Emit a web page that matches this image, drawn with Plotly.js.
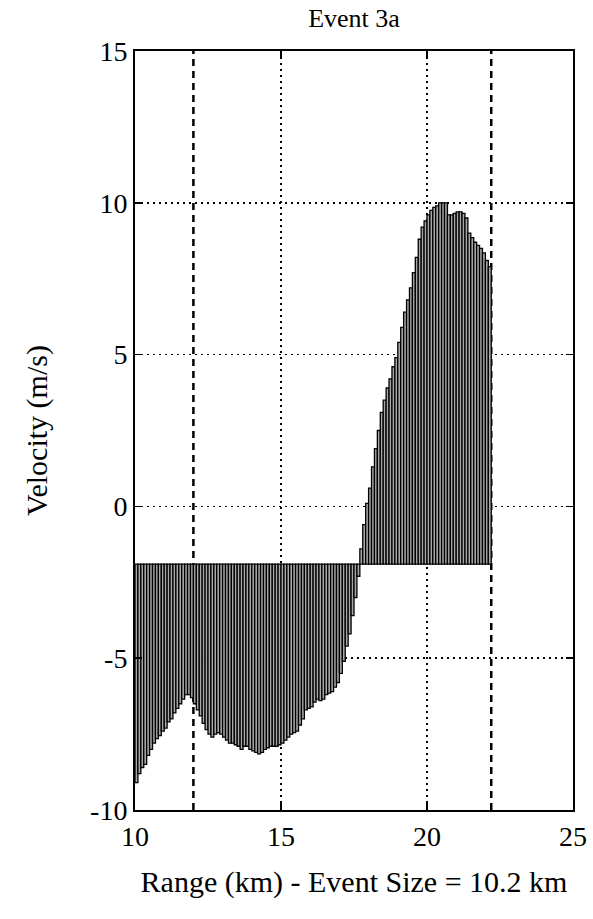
<!DOCTYPE html>
<html>
<head>
<meta charset="utf-8">
<script src="https://cdn.plot.ly/plotly-3.0.1.min.js"></script>
<style>
  html, body { margin: 0; padding: 0; background: #ffffff; }
  #chart { width: 593px; height: 919px; }
</style>
</head>
<body>
<div id="chart"></div>
<script>
// Range (km): left edge of each 0.1 km bar
const rangeKm = [
  10.0, 10.1, 10.2, 10.3, 10.4, 10.5, 10.6, 10.7, 10.8, 10.9,
  11.0, 11.1, 11.2, 11.3, 11.4, 11.5, 11.6, 11.7, 11.8, 11.9,
  12.0, 12.1, 12.2, 12.3, 12.4, 12.5, 12.6, 12.7, 12.8, 12.9,
  13.0, 13.1, 13.2, 13.3, 13.4, 13.5, 13.6, 13.7, 13.8, 13.9,
  14.0, 14.1, 14.2, 14.3, 14.4, 14.5, 14.6, 14.7, 14.8, 14.9,
  15.0, 15.1, 15.2, 15.3, 15.4, 15.5, 15.6, 15.7, 15.8, 15.9,
  16.0, 16.1, 16.2, 16.3, 16.4, 16.5, 16.6, 16.7, 16.8, 16.9,
  17.0, 17.1, 17.2, 17.3, 17.4, 17.5, 17.6, 17.7, 17.8, 17.9,
  18.0, 18.1, 18.2, 18.3, 18.4, 18.5, 18.6, 18.7, 18.8, 18.9,
  19.0, 19.1, 19.2, 19.3, 19.4, 19.5, 19.6, 19.7, 19.8, 19.9,
  20.0, 20.1, 20.2, 20.3, 20.4, 20.5, 20.6, 20.7, 20.8, 20.9,
  21.0, 21.1, 21.2, 21.3, 21.4, 21.5, 21.6, 21.7, 21.8, 21.9,
  22.0, 22.1
];

// Velocity (m/s) at each range bin
const velocity = [
  -9.1, -8.8, -8.6, -8.5, -8.2, -8.0, -7.8, -7.65, -7.55, -7.4,
  -7.3, -7.1, -7.0, -6.8, -6.65, -6.5, -6.35, -6.2, -6.2, -6.3,
  -6.5, -6.7, -6.9, -7.15, -7.35, -7.5, -7.6, -7.5, -7.45, -7.5,
  -7.6, -7.7, -7.8, -7.8, -7.85, -7.9, -8.0, -7.9, -7.9, -8.0,
  -8.05, -8.1, -8.15, -8.1, -8.0, -7.95, -7.9, -7.9, -7.9, -7.85,
  -7.8, -7.7, -7.6, -7.5, -7.45, -7.4, -7.2, -7.0, -6.7, -6.65,
  -6.6, -6.45, -6.35, -6.4, -6.35, -6.2, -6.15, -6.1, -5.95, -5.8,
  -5.5, -5.1, -4.6, -4.2, -3.6, -3.0, -2.3, -1.4, -0.6, 0.1,
  0.6, 1.3, 1.9, 2.5, 3.1, 3.5, 3.9, 4.2, 4.6, 4.9,
  5.4, 5.9, 6.4, 6.8, 7.2, 7.7, 8.2, 8.8, 9.2, 9.4,
  9.6, 9.75, 9.85, 9.9, 10.0, 10.0, 10.0, 9.6, 9.6, 9.65,
  9.7, 9.7, 9.65, 9.5, 9.0, 8.85, 8.7, 8.6, 8.5, 8.35,
  8.1, 7.9
];

const baseline = -1.9;                 // bar base level (m/s)
const eventBounds = [12.0, 22.2];      // event edges (km), Event Size = 10.2 km
const xTicks = [10, 15, 20, 25];
const yTicks = [-10, -5, 0, 5, 10, 15];

const titleText = 'Event 3a';
const xTitle = 'Range (km) - Event Size = 10.2 km';
const yTitle = 'Velocity (m/s)';

const serif = 'Liberation Serif, Times New Roman, serif';

const barTrace = {
  type: 'bar',
  x: rangeKm,
  y: velocity.map(v => v - baseline),
  base: baseline,
  offset: 0,
  width: 0.1,
  marker: {
    color: '#a8a8a8',
    line: { color: '#000000', width: 1.3 }
  },
  hoverinfo: 'skip',
  showlegend: false
};

const shapes = eventBounds.map(xb => ({
  type: 'line', xref: 'x', yref: 'paper',
  x0: xb, x1: xb, y0: 0, y1: 1,
  layer: 'below',
  line: { color: '#000000', width: 2.5, dash: '7px,5px' }
}));

const axisCommon = {
  showline: true, linecolor: '#000000', linewidth: 2,
  mirror: 'ticks', ticks: 'inside', ticklen: 7, tickwidth: 1.5, tickcolor: '#000000',
  showgrid: true, gridcolor: '#000000', gridwidth: 1.5, griddash: '2px,4px',
  zeroline: false,
  tickfont: { family: serif, size: 28, color: '#000000' }
};

const layout = {
  width: 593, height: 919,
  margin: { l: 135, r: 20, t: 51, b: 109, pad: 0 },
  paper_bgcolor: '#ffffff', plot_bgcolor: '#ffffff',
  bargap: 0,
  title: {
    text: titleText,
    font: { family: serif, size: 26, color: '#000000' },
    xref: 'paper', x: 0.5, xanchor: 'center',
    yref: 'container', y: 0.981, yanchor: 'middle'
  },
  xaxis: Object.assign({}, axisCommon, {
    range: [10, 25], tickvals: xTicks, ticktext: xTicks.map(String),
    title: { text: xTitle, font: { family: serif, size: 30, color: '#000000' }, standoff: 20 }
  }),
  yaxis: Object.assign({}, axisCommon, {
    range: [-10, 15], tickvals: yTicks, ticktext: yTicks.map(String),
    title: { text: yTitle, font: { family: serif, size: 30, color: '#000000' }, standoff: 34 }
  }),
  shapes: shapes,
  showlegend: false
};

Plotly.newPlot('chart', [barTrace], layout, { displayModeBar: false, staticPlot: true });
</script>
</body>
</html>
